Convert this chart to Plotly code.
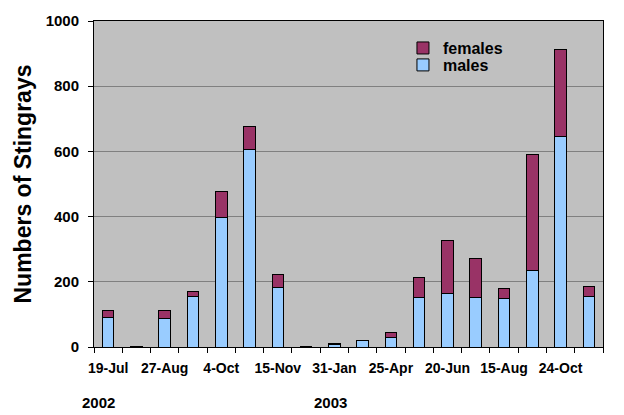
import plotly.graph_objects as go

tick_labels = ["19-Jul", "", "27-Aug", "", "4-Oct", "", "15-Nov", "", "31-Jan", "",
               "25-Apr", "", "20-Jun", "", "15-Aug", "", "24-Oct", ""]
males = [91, 2, 88, 156, 396, 605, 181, 2, 7, 21, 30, 153, 165, 153, 150, 236, 645, 156]
females = [22, 1, 25, 15, 80, 71, 40, 0, 4, 0, 15, 61, 163, 117, 28, 354, 268, 31]
years = ["2002", "2003"]
year_pos = [-0.35, 7.85]

x = list(range(len(males)))
font = "Liberation Sans, Arial, sans-serif"

fig = go.Figure()
fig.add_trace(go.Bar(x=x, y=males, name="<b>males</b>", legend="legend2",
                     marker=dict(color="#99CCFF", line=dict(color="black", width=1)), width=0.41))
fig.add_trace(go.Bar(x=x, y=females, name="<b>females</b>", legend="legend",
                     marker=dict(color="#993366", line=dict(color="black", width=1)), width=0.41))

for yl, xp in zip(years, year_pos):
    fig.add_annotation(x=xp, y=-0.17, xref="x", yref="paper", text="<b>%s</b>" % yl,
                       showarrow=False, font=dict(family=font, size=15, color="black"), yanchor="middle")

leg = dict(xanchor="left", yanchor="middle", bgcolor="rgba(0,0,0,0)",
           font=dict(family=font, size=16, color="black"), itemwidth=30)
fig.update_layout(
    width=624, height=415, barmode="stack",
    paper_bgcolor="white", plot_bgcolor="#C0C0C0",
    margin=dict(l=94, r=21, t=21, b=68),
    font=dict(family=font, color="black"),
    legend=dict(x=0.607, y=0.917, **leg),
    legend2=dict(x=0.607, y=0.865, **leg),
    showlegend=True,
)
fig.update_xaxes(range=[-0.5, 17.5], tickmode="array", tickvals=x,
                 ticktext=["<b>%s</b>" % t if t else "" for t in tick_labels],
                 ticks="", ticklabelstandoff=8,
                 tickfont=dict(family=font, size=14, color="black"),
                 showline=True, linecolor="black", linewidth=1, mirror=True, showgrid=False, zeroline=False,
                 minor=dict(tickmode="linear", tick0=-0.5, dtick=1, ticks="outside", ticklen=5,
                            tickcolor="black", showgrid=False))
fig.update_yaxes(range=[0, 1000], dtick=200, ticks="outside", ticklen=5, tickcolor="black",
                 ticklabelstandoff=6,
                 tickfont=dict(family=font, size=15, color="black"), tickprefix="<b>", ticksuffix="</b>",
                 showline=True, linecolor="black", linewidth=1, mirror=True,
                 showgrid=True, gridcolor="#808080", gridwidth=1, zeroline=False,
                 title=dict(text="<b>Numbers of Stingrays</b>", font=dict(family=font, size=23, color="black"),
                            standoff=7))

fig.write_html("out.html", config={"displayModeBar": False},
               post_script="document.body.style.margin='0';document.body.style.padding='0';")
